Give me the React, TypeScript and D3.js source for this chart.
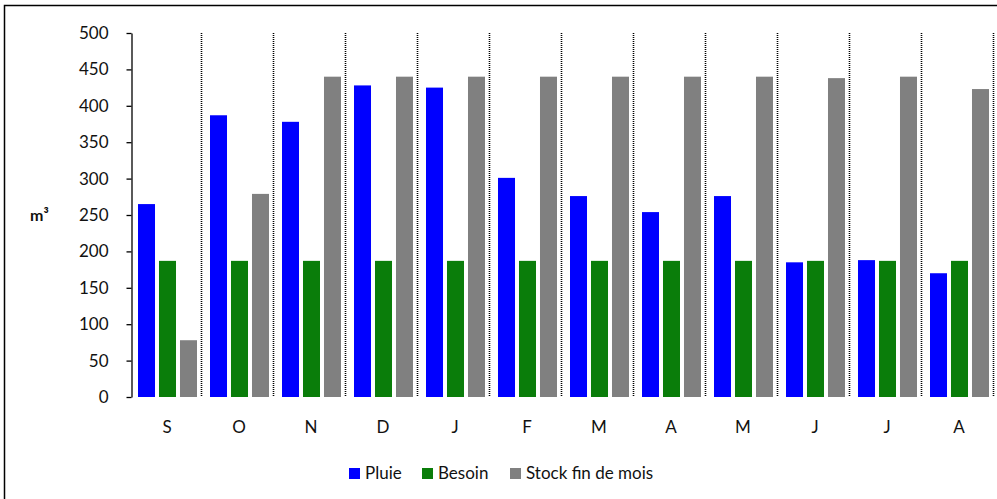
import * as d3 from "d3";
import React, { useEffect, useRef } from "react";

// month initials, Sept -> Aug
const months = ["S", "O", "N", "D", "J", "F", "M", "A", "M", "J", "J", "A"];
const seriesNames = ["Pluie", "Besoin", "Stock fin de mois"];
const pluie = [265, 387, 378, 428, 425, 301, 276, 254, 276, 185, 188, 170];
const besoin = [187, 187, 187, 187, 187, 187, 187, 187, 187, 187, 187, 187];
const stock = [78, 279, 440, 440, 440, 440, 440, 440, 440, 438, 440, 423];
const yTicks = [0, 50, 100, 150, 200, 250, 300, 350, 400, 450, 500];
const colors = ["#0000ff", "#0a7d0a", "#808080"];

const W = 997;
const H = 499;

const App: React.FC = () => {
  const svgRef = useRef<SVGSVGElement>(null);

  useEffect(() => {
    if (!svgRef.current) return;
    const svg = d3.select(svgRef.current);
    svg.selectAll("*").remove();

    const font = "Lato, 'Open Sans', sans-serif";
    const values = [pluie, besoin, stock];

    // outer frame (right/bottom edges fall outside the window)
    svg
      .append("rect")
      .attr("x", 4.5)
      .attr("y", 5.5)
      .attr("width", 1000)
      .attr("height", 500)
      .attr("fill", "#fff")
      .attr("stroke", "#000")
      .attr("stroke-width", 1.5);

    const x = d3
      .scaleBand<number>()
      .domain(d3.range(months.length))
      .range([131, 995])
      .paddingInner(0)
      .paddingOuter(0);

    const inner = d3
      .scaleBand<number>()
      .domain([0, 1, 2])
      .range([7, 66])
      .paddingInner(0.19)
      .paddingOuter(0);

    const y = d3.scaleLinear().domain([0, 500]).range([397, 33]);

    // dotted separators between months
    const seps = d3.range(1, months.length + 1).map((i) =>
      i < months.length ? (x(i) as number) : x.range()[1]
    );
    svg
      .append("g")
      .selectAll("line")
      .data(seps)
      .join("line")
      .attr("x1", (d) => d - 1.5)
      .attr("x2", (d) => d - 1.5)
      .attr("y1", y(500))
      .attr("y2", y(0))
      .attr("stroke", "#000")
      .attr("stroke-width", 1.6)
      .attr("stroke-dasharray", "1,1");

    // bars
    values.forEach((vals, s) => {
      svg
        .append("g")
        .selectAll("rect")
        .data(vals)
        .join("rect")
        .attr("x", (d, i) => (x(i) as number) + (inner(s) as number))
        .attr("width", inner.bandwidth())
        .attr("y", (d) => y(d))
        .attr("height", (d) => y(0) - y(d))
        .attr("fill", colors[s]);
    });

    // y axis
    const yAxis = svg
      .append("g")
      .attr("transform", "translate(131.5,0)")
      .call(
        d3
          .axisLeft(y)
          .tickValues(yTicks)
          .tickSize(5)
          .tickSizeOuter(0)
          .tickPadding(18)
      );
    yAxis.selectAll("path,line").attr("stroke", "#000").attr("stroke-width", 1.3);
    yAxis
      .selectAll("text")
      .attr("font-family", font)
      .attr("font-size", 17)
      .attr("fill", "#111");

    // category labels
    const xAxis = svg
      .append("g")
      .attr("transform", `translate(0,${y(0)})`)
      .call(
        d3
          .axisBottom(x)
          .tickSize(0)
          .tickPadding(24)
          .tickFormat((i) => months[i as number])
      );
    xAxis.select(".domain").remove();
    xAxis
      .selectAll("text")
      .attr("font-family", font)
      .attr("font-size", 17)
      .attr("fill", "#111");

    // unit label
    svg
      .append("text")
      .attr("x", 30)
      .attr("y", 221)
      .attr("font-family", font)
      .attr("font-size", 16)
      .attr("font-weight", "bold")
      .attr("fill", "#111")
      .text("m³");

    // legend
    const legendX = [349, 422, 510];
    const legend = svg
      .append("g")
      .selectAll("g")
      .data(seriesNames)
      .join("g")
      .attr("transform", (d, i) => `translate(${legendX[i]},468)`);
    legend
      .append("rect")
      .attr("width", 11)
      .attr("height", 11)
      .attr("fill", (d, i) => colors[i]);
    legend
      .append("text")
      .attr("x", 16)
      .attr("y", 11)
      .attr("font-family", font)
      .attr("font-size", 17)
      .attr("fill", "#111")
      .text((d) => d);
  }, []);

  return (
    <svg
      ref={svgRef}
      width={W}
      height={H}
      style={{ position: "fixed", left: 0, top: 0, background: "#fff" }}
    />
  );
};

export default App;
